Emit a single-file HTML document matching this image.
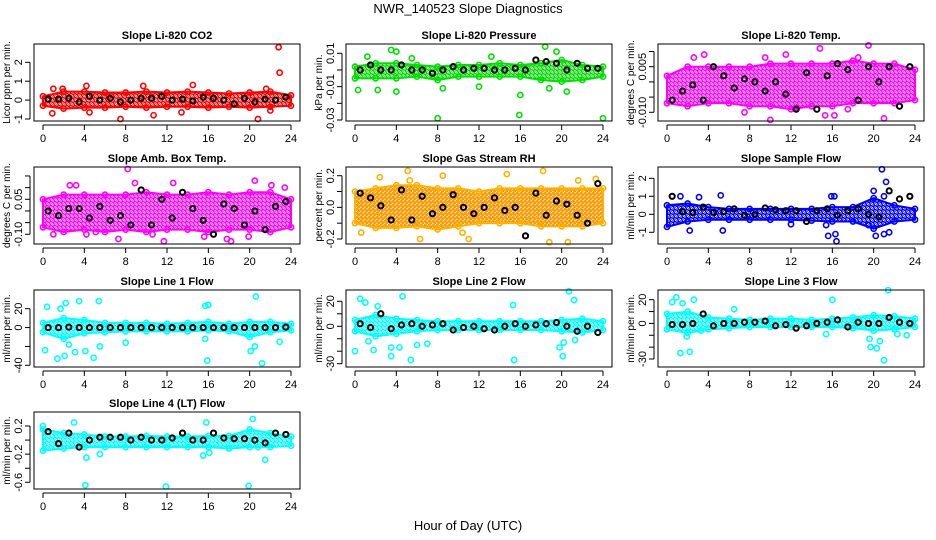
<!DOCTYPE html>
<html><head><meta charset="utf-8"><style>
body{margin:0;background:#fff;}
svg{display:block;font-family:"Liberation Sans",sans-serif;}
</style></head><body>
<svg id="c" width="936" height="540" viewBox="0 0 936 540">
<defs id="defs"></defs>
<text x="468" y="13" text-anchor="middle" font-size="13">NWR_140523  Slope Diagnostics</text>
<text x="468" y="530" text-anchor="middle" font-size="13">Hour of Day (UTC)</text>
</svg>
<script>
const bandHours=[0,2,4,6,8,10,12,14,16,18,20,22,24];
const blackHours=[0.5,1.5,2.5,3.5,4.5,5.5,6.5,7.5,8.5,9.5,10.5,11.5,12.5,13.5,14.5,15.5,16.5,17.5,18.5,19.5,20.5,21.5,22.5,23.5];
const xTicks=[0,4,8,12,16,20,24];

const co2Lo=[-0.3,-0.45,-0.4,-0.4,-0.35,-0.4,-0.35,-0.35,-0.4,-0.35,-0.4,-0.35,-0.3];
const co2Hi=[0.2,0.45,0.45,0.4,0.4,0.45,0.4,0.45,0.4,0.35,0.4,0.45,0.25];
const co2OutH=[1,1.9,4.2,7.5,9.7,10.7,14.5,20.8,22.8,22.9,13.4,0.9,4.5,22,21.6];
const co2OutV=[0.6,0.6,0.75,-1.0,0.75,-0.8,0.8,-1.0,2.8,1.45,-0.65,-0.7,-0.65,-0.55,0.6];
const co2Black=[0.05,0.05,0.1,-0.1,0.2,0.0,0.1,-0.1,0.0,0.1,0.1,0.2,0.0,0.05,-0.05,0.15,0.1,0.0,-0.2,0.1,-0.1,0.05,0.0,0.15];

const presLo=[-0.005,-0.005,-0.005,-0.004,-0.006,-0.004,-0.004,-0.004,-0.004,-0.006,-0.007,-0.006,-0.004];
const presHi=[0.002,0.004,0.004,0.003,0.002,0.003,0.003,0.004,0.003,0.004,0.006,0.003,0.002];
const presOutH=[0.3,1.2,2.2,3.5,4,4,5.5,8,8.5,12,13.2,16,15.9,18.4,19.5,20.5,24,18.8];
const presOutV=[-0.012,0.008,-0.012,0.012,0.011,-0.013,0.007,-0.029,-0.011,-0.01,0.008,-0.015,-0.027,0.014,0.011,-0.013,-0.029,-0.011];
const presBlack=[0,0.003,0,0,0.003,0,0,-0.002,0,0.002,0,0.001,0.001,0,0,0.001,0,0.006,0.005,0.004,0,0.004,0.001,0.001];

const tempLo=[-0.007,-0.008,-0.007,-0.007,-0.008,-0.008,-0.009,-0.008,-0.008,-0.007,-0.007,-0.007,-0.006];
const tempHi=[0.002,0.005,0.005,0.005,0.005,0.006,0.006,0.006,0.006,0.007,0.006,0.006,0.004];
const tempOutH=[3.6,9.5,10,11.5,14.8,15.3,16.2,18.5,19.5,21,7.5,12.5,17.5,2.6];
const tempOutV=[0.009,0.008,-0.0125,0.009,0.011,-0.011,-0.011,0.008,0.012,-0.012,-0.01,-0.0085,-0.009,0.008];
const tempBlack=[-0.006,-0.003,-0.001,-0.006,0.005,0.002,-0.002,0.001,0.0,-0.003,0.0,-0.004,-0.009,0.003,-0.009,0.002,0.006,0.004,-0.006,0.005,0.0,0.005,-0.008,0.005];

const ambLo=[-0.07,-0.09,-0.08,-0.09,-0.08,-0.09,-0.08,-0.08,-0.09,-0.08,-0.08,-0.09,-0.07];
const ambHi=[0.05,0.07,0.07,0.07,0.07,0.08,0.07,0.07,0.08,0.07,0.08,0.08,0.05];
const ambOutH=[8.2,11.7,7.3,17.8,18.2,20.5,2.6,3.2,8.9,12.6,1,4.2,5.1,10.6,19.9,15.6,22.1,23.4];
const ambOutV=[0.18,-0.13,-0.12,-0.12,-0.13,0.13,0.11,0.11,0.12,0.12,-0.1,-0.1,-0.09,-0.1,-0.11,-0.11,0.11,0.1];
const ambBlack=[0.0,-0.02,0.01,0.01,-0.03,0.02,-0.04,-0.02,-0.06,0.09,-0.06,0.05,-0.03,0.08,0.01,-0.04,-0.1,0.03,0.01,-0.06,0.0,-0.08,0.02,0.04];

const rhLo=[-0.1,-0.13,-0.13,-0.12,-0.14,-0.12,-0.1,-0.1,-0.1,-0.12,-0.12,-0.12,-0.1];
const rhHi=[0.1,0.12,0.14,0.14,0.12,0.12,0.1,0.12,0.12,0.12,0.12,0.12,0.12];
const rhOutH=[5.1,5.3,8.5,14.7,18.2,18.8,20.6,0.6,6.3,10.4,11,21.6,23.3,2.4];
const rhOutV=[0.23,0.17,0.2,0.21,0.23,-0.22,-0.22,-0.16,-0.2,-0.16,-0.2,0.17,0.18,0.19];
const rhBlack=[0.09,0.06,0.01,-0.08,0.11,-0.08,0.07,-0.04,0.0,0.08,0.0,-0.04,0.0,0.06,-0.02,0.0,-0.18,0.09,-0.05,0.04,0.02,-0.05,-0.1,0.15];

const sfLo=[-0.7,-0.4,-0.3,-0.3,-0.3,-0.3,-0.3,-0.35,-0.4,-0.4,-0.8,-0.4,-0.3];
const sfHi=[0.5,0.6,0.4,0.3,0.3,0.3,0.3,0.3,0.4,0.4,0.9,0.5,0.3];
const sfOutH=[1.3,3.1,5.2,5.4,2.2,15.4,15.6,15.9,16.2,16.4,16.3,20,20.8,21.2,21,20.2,21,21.5,12,19.5];
const sfOutV=[1.0,0.95,1.05,-0.9,-0.9,-0.6,-1.2,1.0,1.0,-1.5,-1.1,1.3,2.5,1.8,1.0,-1.2,-1.1,-1.0,-0.55,-0.6];
const sfBlack=[1.0,0.15,0.1,0.4,0.1,0.15,0.3,-0.05,0.0,0.35,0.25,0.2,0.2,-0.4,0.2,0.3,-0.05,0.2,0.3,0.0,-0.15,1.3,0.85,1.0];

const l1Lo=[-5,-12,-6,-5,-4,-4,-4,-4,-3,-4,-10,-5,-3];
const l1Hi=[5,10,8,5,5,5,4,5,6,4,6,6,4];
const l1OutH=[0.2,0.4,1.4,1.7,2.1,2.2,2.5,3.1,3.5,4.1,4.9,5.4,5.5,8.0,15.7,15.9,16,15.7,20.1,20.6,21.2,20.5,22.9];
const l1OutV=[-24,22,-33,20,-30,26,-18,-26,28,-25,-32,28,-20,-16,23,-35,24,-12,-25,33,-38,-20,-15];
const l1Black=[0,0,0.5,0,0,0,0,0,0,0,0,0,0,0,0,0,0,0,0,0,0,0,0,0.5];

const l2Lo=[-4,-8,-6,-4,-3,-3,-3,-3,-3,-3,-4,-5,-3];
const l2Hi=[5,9,6,5,4,4,4,4,4,4,5,6,4];
const l2OutH=[0.5,1,0,1.3,1.8,2.2,3.5,3.5,4.3,4.6,5.4,6,7,15.3,15.4,19.8,20.1,20.7,21.2,21.3,20.2];
const l2OutV=[22,19,-20,-12,-19,16,-17,-24,-17,24,-27,-15,-14,17,-27,-17,-24,28,21,-11,-13];
const l2Black=[2,-1,10,-2,1,2,0,1,2,-3,-1,0,-2,-3,0,2,0,1,2,3,0,-4,0,-5];

const l3Lo=[-5,-8,-5,-4,-3,-3,-3,-3,-3,-4,-6,-5,-3];
const l3Hi=[8,10,5,4,3,4,4,3,4,5,7,6,4];
const l3OutH=[0.5,0.9,1.3,1.5,1.9,2.2,2.6,3.3,6.5,15.4,16,19.6,19.7,20.3,20.6,21,21.4,22.3,23.2];
const l3OutV=[18,22,-25,17,-11,-24,20,-6,12,-9,20,-13,-20,-21,-15,-31,28,-9,-10];
const l3Black=[-1,-1,0,8,-2,0,0,1,1,2,-2,-1,-4,-2,0,1,3,-3,1,0,0,5,1,0];

const l4Lo=[-0.15,-0.12,-0.1,-0.1,-0.1,-0.1,-0.1,-0.1,-0.1,-0.12,-0.1,-0.1,-0.08];
const l4Hi=[0.15,0.1,0.08,0.05,0.05,0.06,0.05,0.05,0.06,0.06,0.15,0.1,0.05];
const l4OutH=[4.1,11.9,19.9,4.2,5.5,15.5,16.1,21.5,15.8,3.0,0,20.3,20.8];
const l4OutV=[-0.64,-0.66,-0.65,-0.25,-0.2,-0.22,-0.18,-0.28,0.25,0.25,0.2,0.3,-0.1];
const l4Black=[0.12,-0.05,0.1,-0.1,0,0.04,0.04,0.04,0,0.04,0,0,0.03,0.1,0,0.0,0.1,0.03,0.02,0.02,0.0,-0.04,0.1,0.08];

const NS='http://www.w3.org/2000/svg';
const svg=document.getElementById('c');
const defs=document.getElementById('defs');
const colX=[34,346,658], rowY=[44,167,290,412], W=266, H=77;
function mk(tag,parent){const e=document.createElementNS(NS,tag);parent.appendChild(e);return e;}

const panels=[
 {title:'Slope Li-820 CO2',yl:'Licor ppm per min.',c:0,r:0,col:'#ff0000',a:[-1,75,2,18.3],ticks:[-1,0,1,2],labels:['-1','0','1','2'],lo:co2Lo,hi:co2Hi,oh:co2OutH,ov:co2OutV,bk:co2Black},
 {title:'Slope Li-820 Pressure',yl:'kPa per min.',c:1,r:0,col:'#00e000',a:[0.01,9.3,-0.03,76],ticks:[0.01,0,-0.01,-0.02,-0.03],labels:['0.01','','-0.01','','-0.03'],lo:presLo,hi:presHi,oh:presOutH,ov:presOutV,bk:presBlack},
 {title:'Slope Li-820 Temp.',yl:'degrees C per min.',c:2,r:0,col:'#ff00ff',a:[0.005,22.7,-0.01,68.3],ticks:[0.01,0.005,0,-0.005,-0.01],labels:['','0.005','','','-0.010'],lo:tempLo,hi:tempHi,oh:tempOutH,ov:tempOutV,bk:tempBlack},
 {title:'Slope Amb. Box Temp.',yl:'degrees C per min.',c:0,r:1,col:'#ff00ff',a:[0.05,32.3,-0.1,67.3],ticks:[0.15,0.1,0.05,0,-0.05,-0.1],labels:['','','0.05','','','-0.10'],lo:ambLo,hi:ambHi,oh:ambOutH,ov:ambOutV,bk:ambBlack},
 {title:'Slope Gas Stream RH',yl:'percent per min.',c:1,r:1,col:'#ffb000',dot:'#ff2000',a:[0.2,8.7,-0.2,72],ticks:[0.2,0.1,0,-0.1,-0.2],labels:['0.2','','0.0','','-0.2'],lo:rhLo,hi:rhHi,oh:rhOutH,ov:rhOutV,bk:rhBlack},
 {title:'Slope Sample Flow',yl:'ml/min per min.',c:2,r:1,col:'#0000ff',a:[2,11.3,-1,65.3],ticks:[2,1,0,-1],labels:['2','1','0','-1'],lo:sfLo,hi:sfHi,oh:sfOutH,ov:sfOutV,bk:sfBlack},
 {title:'Slope Line 1 Flow',yl:'ml/min per min.',c:0,r:2,col:'#00ffff',a:[20,18.7,-40,75.3],ticks:[20,0,-20,-40],labels:['20','0','','-40'],lo:l1Lo,hi:l1Hi,oh:l1OutH,ov:l1OutV,bk:l1Black},
 {title:'Slope Line 2 Flow',yl:'ml/min per min.',c:1,r:2,col:'#00ffff',a:[20,11.3,-30,73.7],ticks:[20,10,0,-10,-20,-30],labels:['20','','0','','','-30'],lo:l2Lo,hi:l2Hi,oh:l2OutH,ov:l2OutV,bk:l2Black},
 {title:'Slope Line 3 Flow',yl:'ml/min per min.',c:2,r:2,col:'#00ffff',a:[20,9.7,-30,69],ticks:[20,10,0,-10,-20,-30],labels:['20','','0','','','-30'],lo:l3Lo,hi:l3Hi,oh:l3OutH,ov:l3OutV,bk:l3Black},
 {title:'Slope Line 4 (LT) Flow',yl:'ml/min per min.',c:0,r:3,col:'#00ffff',a:[0.2,14,-0.6,70.3],ticks:[0.2,0,-0.2,-0.4,-0.6],labels:['0.2','','-0.2','','-0.6'],lo:l4Lo,hi:l4Hi,oh:l4OutH,ov:l4OutV,bk:l4Black}
];

panels.forEach((p,pi)=>{
 const x0=colX[p.c], y0=rowY[p.r];
 const pat=mk('pattern',defs);pat.setAttribute('id','pat'+pi);pat.setAttribute('width','4');pat.setAttribute('height','4');pat.setAttribute('patternUnits','userSpaceOnUse');
 const pb=mk('rect',pat);pb.setAttribute('width','4');pb.setAttribute('height','4');pb.setAttribute('fill','#fff');
 [[1,1],[3,3]].forEach(q=>{const c=mk('circle',pat);c.setAttribute('cx',q[0]);c.setAttribute('cy',q[1]);c.setAttribute('r','1.4');c.setAttribute('fill','none');c.setAttribute('stroke',p.col);c.setAttribute('stroke-width','1.4');});
 if(p.dot){[[1,1],[3,3]].forEach(q=>{const c=mk('rect',pat);c.setAttribute('x',q[0]-0.5);c.setAttribute('y',q[1]-0.5);c.setAttribute('width','1');c.setAttribute('height','1');c.setAttribute('fill',p.dot);});}
 const g=mk('g',svg);
 
 
 const xs=h=>x0+9+h*248/24;
 const ys=v=>y0+p.a[1]+(v-p.a[0])*(p.a[3]-p.a[1])/(p.a[2]-p.a[0]);
 const clip=mk('clipPath',g); clip.setAttribute('id','cl'+pi);
 const cr=mk('rect',clip); cr.setAttribute('x',x0-3);cr.setAttribute('y',y0-3);cr.setAttribute('width',W+6);cr.setAttribute('height',H+6);
 let pts=bandHours.map((h,i)=>xs(h)+','+ys(p.hi[i]));
 pts=pts.concat(bandHours.map((h,i)=>xs(h)+','+ys(p.lo[i])).reverse());
 const band=mk('polygon',g);
 
 
 band.setAttribute('points',pts.join(' '));
 band.setAttribute('fill','url(#pat'+pi+')');band.setAttribute('stroke',p.col);band.setAttribute('stroke-width','2');band.setAttribute('stroke-linejoin','round');
 const dot=(h,v,color,sw,name)=>{const c=mk('circle',g);
  
  
  c.setAttribute('cx',xs(h));c.setAttribute('cy',ys(v));c.setAttribute('r',2.6);c.setAttribute('fill','none');c.setAttribute('stroke',color);c.setAttribute('stroke-width',sw);c.setAttribute('clip-path','url(#cl'+pi+')');};
 bandHours.forEach((h,i)=>{dot(h,p.hi[i],p.col,1.6,'point');dot(h,p.lo[i],p.col,1.6,'point');});
 p.oh.forEach((h,i)=>dot(h,p.ov[i],p.col,1.6,'outlier-point'));
 p.bk.forEach((v,i)=>dot(blackHours[i],v,'#000',2,'mean-point'));
 const box=mk('rect',g);
 
 
 box.setAttribute('x',x0);box.setAttribute('y',y0);box.setAttribute('width',W);box.setAttribute('height',H);box.setAttribute('fill','none');box.setAttribute('stroke','#000');box.setAttribute('stroke-width','1');
 const t=mk('text',g);
 
 
 t.setAttribute('x',x0+W/2);t.setAttribute('y',y0-5);t.setAttribute('text-anchor','middle');t.setAttribute('font-size','11');t.setAttribute('font-weight','bold');t.textContent=p.title;
 const xl=mk('line',g);xl.setAttribute('x1',xs(0));xl.setAttribute('x2',xs(24));xl.setAttribute('y1',y0+H+4);xl.setAttribute('y2',y0+H+4);xl.setAttribute('stroke','#000');
 xTicks.forEach(v=>{const l=mk('line',g);
  
  
  l.setAttribute('x1',xs(v));l.setAttribute('x2',xs(v));l.setAttribute('y1',y0+H+4);l.setAttribute('y2',y0+H+9);l.setAttribute('stroke','#000');
  const tx=mk('text',g);
  
  
  tx.setAttribute('x',xs(v));tx.setAttribute('y',y0+H+21);tx.setAttribute('text-anchor','middle');tx.setAttribute('font-size','11');tx.textContent=v;});
 const yl=mk('line',g);yl.setAttribute('x1',x0-4);yl.setAttribute('x2',x0-4);yl.setAttribute('y1',ys(p.ticks[0]));yl.setAttribute('y2',ys(p.ticks[p.ticks.length-1]));yl.setAttribute('stroke','#000');
 p.ticks.forEach((v,i)=>{const l=mk('line',g);
  
  
  l.setAttribute('x1',x0-9);l.setAttribute('x2',x0-4);l.setAttribute('y1',ys(v));l.setAttribute('y2',ys(v));l.setAttribute('stroke','#000');
  if(p.labels[i]){const tx=mk('text',g);
   
   
   const X=x0-12,Y=ys(v);tx.setAttribute('x',X);tx.setAttribute('y',Y);tx.setAttribute('transform','rotate(-90 '+X+' '+Y+')');tx.setAttribute('text-anchor','middle');tx.setAttribute('font-size','11');tx.textContent=p.labels[i];}});
 const ya=mk('text',g);
 
 
 const X=x0-24,Y=y0+H/2;ya.setAttribute('x',X);ya.setAttribute('y',Y);ya.setAttribute('transform','rotate(-90 '+X+' '+Y+')');ya.setAttribute('text-anchor','middle');ya.setAttribute('font-size','10');ya.textContent=p.yl;
});
</script>
</body></html>
